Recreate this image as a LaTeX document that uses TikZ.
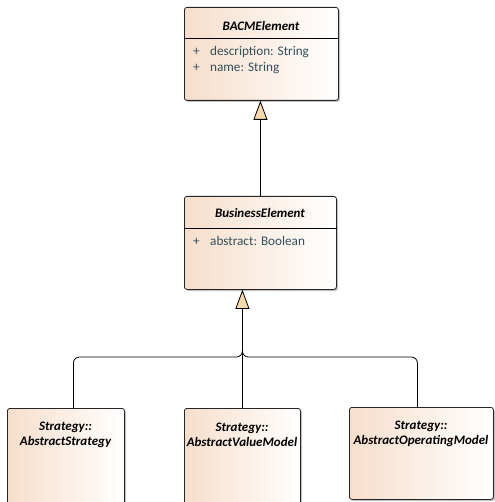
\documentclass[tikz,border=0pt]{standalone}
\usepackage{fontspec}
\setmainfont{Carlito}
\usepackage{tikz}
\usetikzlibrary{positioning,arrows.meta,shadows}

\definecolor{classfill}{RGB}{247,222,203}
\definecolor{attrtext}{RGB}{50,80,90}
\definecolor{genfill}{RGB}{250,218,170}

\tikzset{
  classbox/.style={draw=black!85, line width=0.8pt, rounded corners=2.5pt,
    left color=classfill, right color=white, anchor=north west, inner sep=0pt,
    drop shadow={shadow xshift=1.6pt, shadow yshift=-1.6pt, fill=black!40, opacity=.6}},
  classname/.style={font=\fontsize{13}{15}\selectfont\bfseries\itshape, inner sep=0pt, align=center},
  attr/.style={font=\fontsize{13.2}{15}\selectfont, text=attrtext, anchor=west, inner sep=0pt},
  genline/.style={draw=black, line width=0.8pt},
  genarrow/.style={genline, -{Triangle[length=19pt, width=14pt, fill=genfill]}}
}

\begin{document}
\begin{tikzpicture}[x=1pt,y=-1pt]
  \useasboundingbox (0,0) rectangle (494,502);

  % top class
  \node[classbox, minimum width=154pt, minimum height=93pt] (bacm) at (184,7) {};
  \node[classname] (bacmname) at (261,26) {BACMElement};
  \draw[genline] (bacm.west |- 0,38) -- (bacm.east |- 0,38);
  \node[attr] (bacmdesc) at (193,52) {\makebox[17pt][l]{+}description: String};
  \node[attr] (bacmname2) at (193,68) {\makebox[17pt][l]{+}name: String};

  % middle class
  \node[classbox, minimum width=152pt, minimum height=93pt] (busi) at (184,196) {};
  \node[classname] (businame) at (260,213) {BusinessElement};
  \draw[genline] (busi.west |- 0,228) -- (busi.east |- 0,228);
  \node[attr] (busiabs) at (193,241) {\makebox[17pt][l]{+}abstract: Boolean};

  % strategy classes
  \node[classbox, minimum width=117pt, minimum height=96pt] (strat) at (7,408) {};
  \node[classname] (stratname) at (65.5,435) {Strategy::\\AbstractStrategy};
  \node[classbox, minimum width=116pt, minimum height=96pt] (value) at (184,408) {};
  \node[classname] (valuename) at (242,435) {Strategy::\\AbstractValueModel};
  \node[classbox, minimum width=144pt, minimum height=92pt] (oper) at (349,407) {};
  \node[classname] (opername) at (421,434) {Strategy::\\AbstractOperatingModel};

  % generalizations
  \draw[genarrow] (busi.north) -- (busi.north |- bacm.south);
  \coordinate (fork) at (value.north |- 0,357);
  \draw[genarrow] (value.north) -- (value.north |- busi.south);
  \draw[genline, rounded corners=6pt] ([xshift=7.5pt]strat.north) |- (fork) -- ++(0,-10);
  \draw[genline, rounded corners=6pt] ([xshift=-4pt]oper.north) |- (fork) -- ++(0,-10);
\end{tikzpicture}
\end{document}
